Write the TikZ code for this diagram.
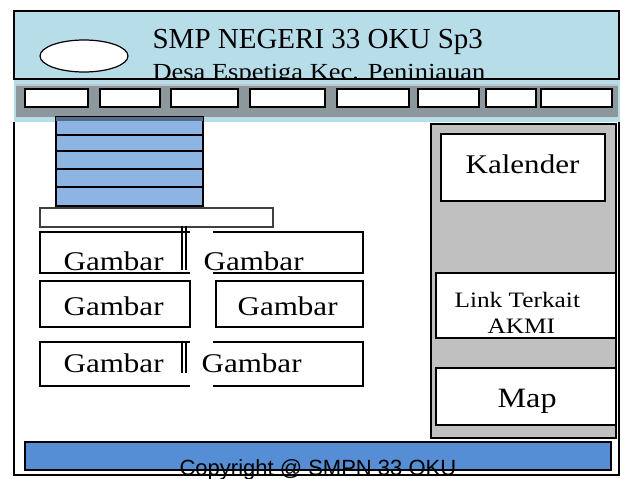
\documentclass[tikz,border=0pt]{standalone}
\usepackage{fontspec}
\setmainfont{Liberation Serif}
\newfontfamily\widefont[FakeStretch=1.15]{Liberation Serif}
\newfontfamily\footfont{Liberation Sans}
\definecolor{headblue}{HTML}{B7DEE8}
\definecolor{navgray}{HTML}{8D989D}
\definecolor{listblue}{HTML}{8DB4E2}
\definecolor{footblue}{HTML}{558ED5}
\definecolor{sidegray}{HTML}{C0C0C0}

\begin{document}
\begin{tikzpicture}[x=1pt, y=-1pt, line width=1.2pt,
    txt/.style={anchor=base west, inner sep=0pt},
    navbox/.style={draw, fill=white, line width=1.5pt},
    sidebox/.style={draw, fill=white, line width=1.2pt},
    bar/.style={line width=1.1pt}]
  \useasboundingbox (0,0) rectangle (621,479);
  % header
  \draw[fill=headblue, line width=1.5pt] (14,11) rectangle (619,79);
  \draw[fill=white, line width=1.2pt] (84,56) ellipse (44 and 16);
  \node[txt] (title) at (152,48) {\fontsize{29}{30}\selectfont SMP NEGERI 33 OKU Sp3};
  \node[txt] (place) at (152,79) {\widefont\fontsize{23}{24}\selectfont Desa Espetiga Kec. Peninjauan};
  % menu bar
  \fill[headblue] (14,80) rectangle (620,122);
  \fill[navgray] (16,84) rectangle (618,117);
  \fill[navgray!55!white] (16,84) rectangle (618,86);
  \draw[navbox] (25,89) rectangle (88,107);
  \draw[navbox] (100,89) rectangle (160,107);
  \draw[navbox] (171,89) rectangle (238,107);
  \draw[navbox] (250,89) rectangle (325,107);
  \draw[navbox] (337,89) rectangle (409,107);
  \draw[navbox] (418,89) rectangle (479,107);
  \draw[navbox] (486,89) rectangle (536,107);
  \draw[navbox] (541,89) rectangle (612,107);
  % page frame
  \draw[line width=1.5pt] (14,122) -- (14,475) -- (619,475) -- (619,122);
  % list block
  \draw[fill=listblue] (56,117) rectangle (203,206);
  \fill[listblue!60!black] (56,117) rectangle (203,121);
  \draw (56,135) -- (203,135);
  \draw (56,151) -- (203,151);
  \draw (56,169) -- (203,169);
  \draw (56,187) -- (203,187);
  \draw[black!75] (40,208) rectangle (273,227);
  % gambar rows
  \draw (190,232) -- (40,232) -- (40,273) -- (190,273);
  \draw (213,232) -- (363,232) -- (363,273) -- (213,273);
  \draw[bar] (182,226) -- (182,270);
  \draw[bar] (186,226) -- (186,270);
  \node[txt] (gambarA) at (63,270) {\widefont\fontsize{27}{28}\selectfont Gambar};
  \node[txt] (gambarB) at (203,270) {\widefont\fontsize{27}{28}\selectfont Gambar};
  \draw[line width=2.5pt] (40,281) rectangle (190,327);
  \draw[line width=2.5pt] (216,281) rectangle (363,327);
  \node[txt] (gambarC) at (63,315) {\widefont\fontsize{27}{28}\selectfont Gambar};
  \node[txt] (gambarD) at (237,315) {\widefont\fontsize{27}{28}\selectfont Gambar};
  \draw (190,342) -- (40,342) -- (40,386) -- (190,386);
  \draw (213,342) -- (363,342) -- (363,386) -- (213,386);
  \draw[bar] (182,341) -- (182,373);
  \draw[bar] (186,341) -- (186,373);
  \node[txt] (gambarE) at (63,372) {\widefont\fontsize{27}{28}\selectfont Gambar};
  \node[txt] (gambarF) at (201,372) {\widefont\fontsize{27}{28}\selectfont Gambar};
  % sidebar
  \draw[fill=sidegray, line width=1.5pt] (431,124) rectangle (616,438);
  \draw[sidebox] (441,134) rectangle (605,201);
  \draw[sidebox] (436,273) rectangle (616,338);
  \draw[sidebox] (436,368) rectangle (616,425);
  \node[txt] (kalender) at (465,173) {\widefont\fontsize{27}{28}\selectfont Kalender};
  \node[txt] (link) at (454,307) {\widefont\fontsize{22}{23}\selectfont Link Terkait};
  \node[txt] (akmi) at (487,333) {\widefont\fontsize{22}{23}\selectfont AKMI};
  \node[txt] (map) at (497,407) {\widefont\fontsize{28}{29}\selectfont Map};
  % footer
  \draw[fill=footblue] (25,442) rectangle (611,470);
  \node[txt] (copy) at (179,475) {\footfont\fontsize{22}{23}\selectfont Copyright @ SMPN 33 OKU};
\end{tikzpicture}
\end{document}
